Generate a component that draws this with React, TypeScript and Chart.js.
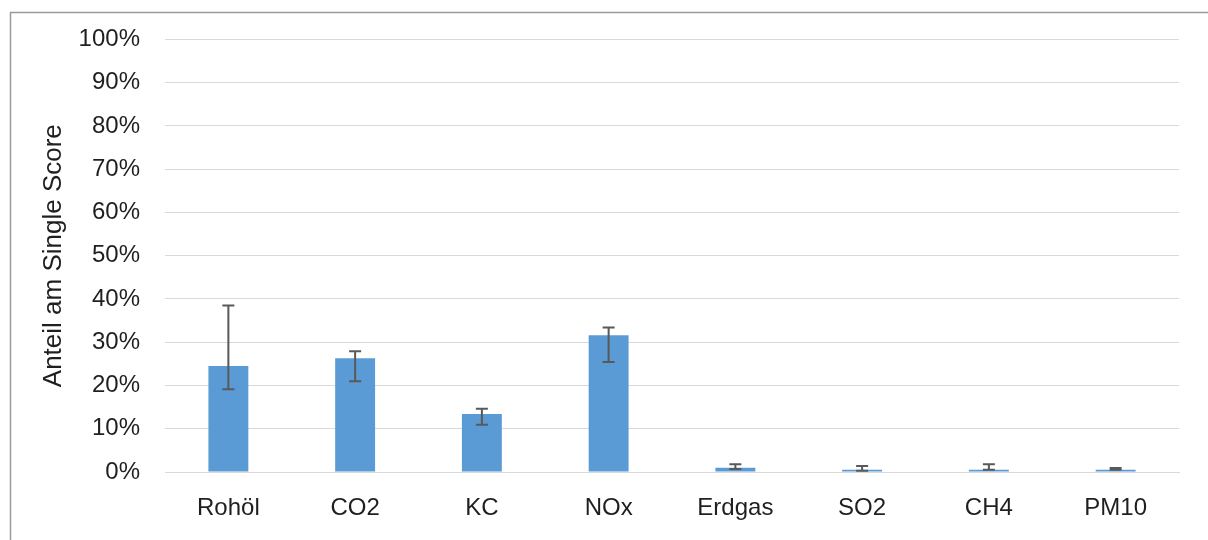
import React, { useEffect, useRef } from "react";
import { Chart, registerables } from "chart.js";

Chart.register(...registerables);

const categories = ["Rohöl", "CO2", "KC", "NOx", "Erdgas", "SO2", "CH4", "PM10"];
const values = [24.5, 26.3, 13.4, 31.6, 1.0, 0.5, 0.5, 0.5];
const errLow = [19.1, 21.0, 10.9, 25.4, 0.7, 0.3, 0.5, 0.5];
const errHigh = [38.5, 27.9, 14.6, 33.4, 1.8, 1.4, 1.8, 0.9];
const yTicks = [0, 10, 20, 30, 40, 50, 60, 70, 80, 90, 100];

const FONT = "'Liberation Sans', Arial, sans-serif";

const errorBarPlugin = {
  id: "errorBars",
  afterDatasetsDraw(chart: any) {
    const meta = chart.getDatasetMeta(0);
    const yScale = chart.scales.y;
    const ctx = chart.ctx;
    ctx.save();
    ctx.strokeStyle = "#595959";
    ctx.lineWidth = 2;
    meta.data.forEach((bar: any, i: number) => {
      const x = bar.x;
      const yH = yScale.getPixelForValue(errHigh[i]);
      const yL = yScale.getPixelForValue(errLow[i]);
      const cap = 6;
      ctx.beginPath();
      ctx.moveTo(x, yH);
      ctx.lineTo(x, yL);
      ctx.moveTo(x - cap, yH);
      ctx.lineTo(x + cap, yH);
      ctx.moveTo(x - cap, yL);
      ctx.lineTo(x + cap, yL);
      ctx.stroke();
    });
    ctx.restore();
  },
};

const framePlugin = {
  id: "frame",
  beforeDraw(chart: any) {
    const ctx = chart.ctx;
    ctx.save();
    ctx.fillStyle = "#ffffff";
    ctx.fillRect(0, 0, chart.width, chart.height);
    ctx.strokeStyle = "#9a9a9a";
    ctx.lineWidth = 1.5;
    ctx.beginPath();
    ctx.moveTo(10.5, chart.height);
    ctx.lineTo(10.5, 12.5);
    ctx.lineTo(chart.width, 12.5);
    ctx.stroke();
    ctx.restore();
  },
};

export default function App() {
  const canvasRef = useRef<HTMLCanvasElement | null>(null);

  useEffect(() => {
    if (!canvasRef.current) return;
    const chart = new Chart(canvasRef.current, {
      type: "bar",
      data: {
        labels: categories,
        datasets: [
          {
            data: values,
            backgroundColor: "#5B9BD5",
            borderWidth: 0,
            barPercentage: 0.315,
            categoryPercentage: 1,
          },
        ],
      },
      options: {
        animation: false,
        responsive: false,
        maintainAspectRatio: false,
        layout: { padding: { left: 0, right: 29, top: 38, bottom: 0 } },
        plugins: {
          legend: { display: false },
          tooltip: { enabled: false },
        },
        scales: {
          x: {
            grid: { display: false, drawTicks: false },
            border: { display: true, color: "#D9D9D9", width: 1 },
            ticks: {
              color: "#1f1f1f",
              font: { family: FONT, size: 24 },
              padding: 22,
            },
            afterFit(scale: any) {
              scale.height = 68;
            },
          },
          y: {
            min: 0,
            max: 100,
            afterBuildTicks(scale: any) {
              scale.ticks = yTicks.map((v) => ({ value: v }));
            },
            grid: { color: "#D9D9D9", lineWidth: 1, drawTicks: false },
            border: { display: false },
            ticks: {
              color: "#1f1f1f",
              font: { family: FONT, size: 24 },
              padding: 25,
              callback: (v: any) => v + "%",
            },
            title: {
              display: true,
              text: "Anteil am Single Score",
              color: "#1f1f1f",
              font: { family: FONT, size: 26 },
              padding: { top: 38, bottom: 0 },
            },
            afterFit(scale: any) {
              scale.width = 165;
            },
          },
        },
      },
      plugins: [framePlugin, errorBarPlugin],
    });
    return () => chart.destroy();
  }, []);

  return (
    <div style={{ position: "absolute", left: 0, top: 0, width: 1208, height: 540 }}>
      <canvas ref={canvasRef} width={1208} height={540} style={{ display: "block" }} />
    </div>
  );
}
